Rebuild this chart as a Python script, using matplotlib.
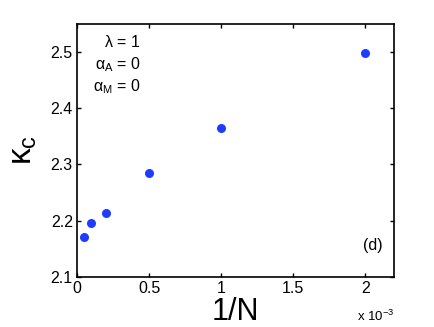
import numpy as np
import matplotlib.pyplot as plt

# system sizes and the measured critical coupling
N = np.array([20000, 10000, 5000, 2000, 1000, 500])
kappa_c = [2.171, 2.196, 2.213, 2.285, 2.364, 2.499]

x_ticks = [0, 0.5e-3, 1e-3, 1.5e-3, 2e-3]
x_tick_labels = ['0', '0.5', '1', '1.5', '2']
y_ticks = [2.1, 2.2, 2.3, 2.4, 2.5]

plt.rcParams['font.family'] = ['Liberation Sans', 'DejaVu Sans']
plt.rcParams['mathtext.fontset'] = 'custom'
plt.rcParams['mathtext.rm'] = 'Liberation Sans'
plt.rcParams['mathtext.it'] = 'Liberation Sans'

fig = plt.figure(figsize=(4.35, 3.27), dpi=100)
ax = fig.add_axes([0.177, 0.153, 0.729, 0.774])

ax.plot(1.0 / N, kappa_c, 'o', color='#1e3cff', markersize=6.5, markeredgewidth=0)

ax.set_xlim(0, 2.2e-3)
ax.set_ylim(2.1, 2.55)
ax.set_xticks(x_ticks)
ax.set_xticklabels(x_tick_labels)
ax.set_yticks(y_ticks)
ax.set_yticklabels([f'{v:.1f}' for v in y_ticks])

ax.tick_params(direction='in', top=True, right=True, length=3, width=1,
               labelsize=11.5, pad=3)
for s in ax.spines.values():
    s.set_linewidth(1.2)

# x label placed by its baseline, like the original
ax.text(0.5, -0.17, '1/N', transform=ax.transAxes, fontsize=22,
        ha='center', va='baseline')
ax.set_ylabel(r'$\kappa_{\rm c}$', fontsize=24, labelpad=8)

ax.text(1.0, -0.172, r'x 10$^{-3}$', transform=ax.transAxes, fontsize=9.5,
        ha='right', va='baseline')

ax.text(0.2, 0.93, r'$\lambda$ = 1', transform=ax.transAxes, fontsize=11.5,
        ha='right', va='center')
ax.text(0.2, 0.84, r'$\alpha_{\rm A}$ = 0', transform=ax.transAxes, fontsize=11.5,
        ha='right', va='center')
ax.text(0.2, 0.75, r'$\alpha_{\rm M}$ = 0', transform=ax.transAxes, fontsize=11.5,
        ha='right', va='center')
ax.text(0.965, 0.125, '(d)', transform=ax.transAxes, fontsize=11.5,
        ha='right', va='center')

fig.savefig('out.png', dpi=100)
plt.close()
